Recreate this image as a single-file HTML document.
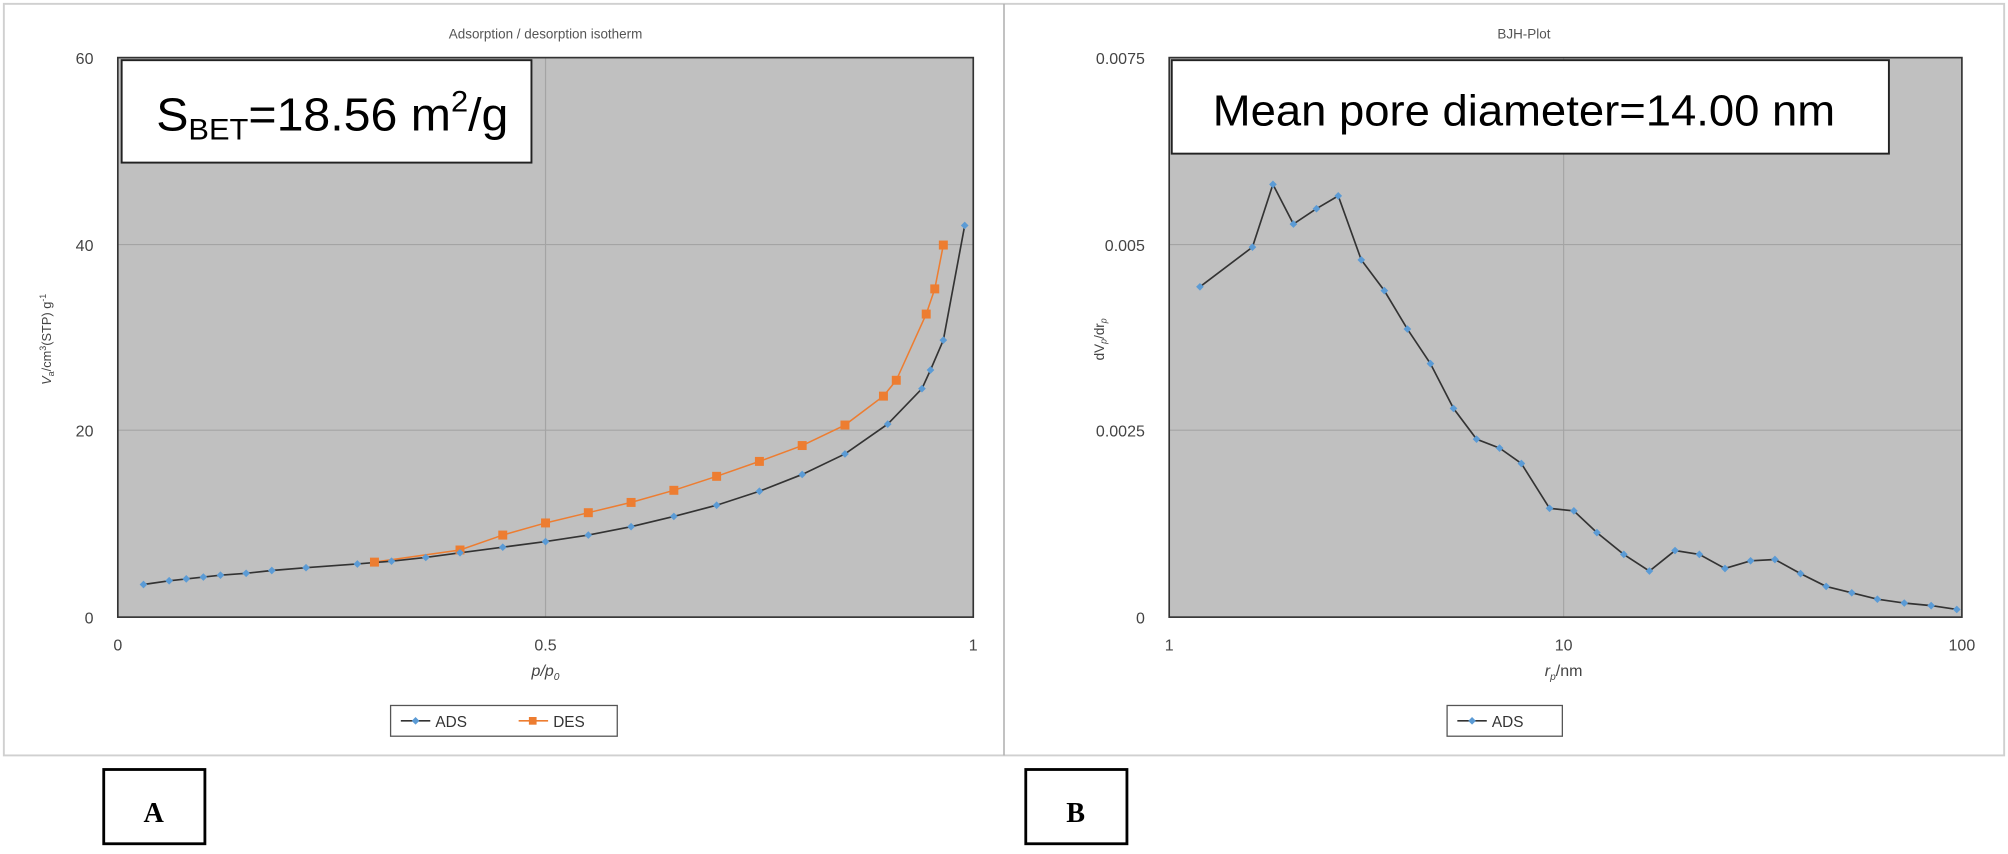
<!DOCTYPE html>
<html><head><meta charset="utf-8"><style>
html,body{margin:0;padding:0;background:#fff;width:2008px;height:854px;overflow:hidden}
svg{display:block}
text{font-family:"Liberation Sans",sans-serif}
</style></head><body>
<svg id="s" width="2008" height="854" viewBox="0 0 1568 667" preserveAspectRatio="none" xmlns="http://www.w3.org/2000/svg">
<rect x="0" y="0" width="1568" height="667" fill="#fff"/>
<rect x="3" y="3" width="1562" height="587" fill="none" stroke="#d0d0d0" stroke-width="1.5"/>
<line x1="784" y1="3" x2="784" y2="590" stroke="#b0b0b0" stroke-width="1.2"/>
<text x="426" y="30" font-size="10.5" fill="#555" text-anchor="middle">Adsorption / desorption isotherm</text>
<text x="1190" y="30" font-size="10.5" fill="#555" text-anchor="middle">BJH-Plot</text>
<rect x="92" y="45" width="668" height="437" fill="#c0c0c0"/>
<g stroke="#a4a4a4" stroke-width="0.9">
<line x1="92" y1="191" x2="760" y2="191"/><line x1="92" y1="336" x2="760" y2="336"/>
<line x1="426" y1="45" x2="426" y2="482"/>
</g>
<rect x="92" y="45" width="668" height="437" fill="none" stroke="#333" stroke-width="1.3"/>
<g font-size="12.5" fill="#444" text-anchor="end">
<text x="73" y="50">60</text><text x="73" y="196">40</text><text x="73" y="341">20</text><text x="73" y="487">0</text>
</g>
<g font-size="12.5" fill="#444" text-anchor="middle">
<text x="92" y="508">0</text><text x="426" y="508">0.5</text><text x="760" y="508">1</text>
<text x="426" y="528" font-style="italic">p/p<tspan font-size="8" dy="3">0</tspan></text>
</g>
<text transform="translate(40,265) rotate(-90)" font-size="10" fill="#444" text-anchor="middle"><tspan font-style="italic">V</tspan><tspan font-size="7" dy="2">a</tspan><tspan dy="-2">/cm</tspan><tspan font-size="7" dy="-4">3</tspan><tspan dy="4">(STP) g</tspan><tspan font-size="7" dy="-4">-1</tspan></text>
<g id="L"></g>
<rect x="95" y="47" width="320" height="80" fill="#fff" stroke="#222" stroke-width="1.5"/>
<text x="122" y="102" font-size="36" fill="#000" style="font-family:'Liberation Sans Narrow','Liberation Sans',sans-serif" textLength="275" lengthAdjust="spacingAndGlyphs">S<tspan font-size="23" dy="7">BET</tspan><tspan dy="-7">=18.56 m</tspan><tspan font-size="23" dy="-15">2</tspan><tspan dy="15">/g</tspan></text>
<rect x="305" y="551" width="177" height="24" fill="#fff" stroke="#555" stroke-width="1"/>
<line x1="313" y1="563" x2="336" y2="563" stroke="#333" stroke-width="1.3"/>
<path d="M324.5 560 L327.5 563 L324.5 566 L321.5 563Z" fill="#5b9bd5"/>
<text x="340" y="568" font-size="12" fill="#333">ADS</text>
<line x1="405" y1="563" x2="428" y2="563" stroke="#ed7d31" stroke-width="1.3"/>
<rect x="413" y="560" width="6" height="6" fill="#ed7d31"/>
<text x="432" y="568" font-size="12" fill="#333">DES</text>
<rect x="913" y="45" width="619" height="437" fill="#c0c0c0"/>
<g stroke="#a4a4a4" stroke-width="0.9">
<line x1="913" y1="191" x2="1532" y2="191"/><line x1="913" y1="336" x2="1532" y2="336"/>
<line x1="1221" y1="45" x2="1221" y2="482"/>
</g>
<rect x="913" y="45" width="619" height="437" fill="none" stroke="#333" stroke-width="1.3"/>
<g font-size="12.5" fill="#444" text-anchor="end">
<text x="894" y="50">0.0075</text><text x="894" y="196">0.005</text><text x="894" y="341">0.0025</text><text x="894" y="487">0</text>
</g>
<g font-size="12.5" fill="#444" text-anchor="middle">
<text x="913" y="508">1</text><text x="1221" y="508">10</text><text x="1532" y="508">100</text>
<text x="1221" y="528"><tspan font-style="italic">r</tspan><tspan font-size="8" dy="3" font-style="italic">p</tspan><tspan dy="-3">/nm</tspan></text>
</g>
<text transform="translate(862,265) rotate(-90)" font-size="10.5" fill="#444" text-anchor="middle">dV<tspan font-size="7" dy="2" font-style="italic">p</tspan><tspan dy="-2">/dr</tspan><tspan font-size="7" dy="2" font-style="italic">p</tspan></text>
<g id="R"></g>
<rect x="915" y="47" width="560" height="73" fill="#fff" stroke="#222" stroke-width="1.5"/>
<text x="947" y="98" font-size="34" fill="#000" style="font-family:'Liberation Sans Narrow','Liberation Sans',sans-serif" textLength="486" lengthAdjust="spacingAndGlyphs">Mean pore diameter=14.00 nm</text>
<rect x="1130" y="551" width="90" height="24" fill="#fff" stroke="#555" stroke-width="1"/>
<line x1="1138" y1="563" x2="1161" y2="563" stroke="#333" stroke-width="1.3"/>
<path d="M1149.5 560 L1152.5 563 L1149.5 566 L1146.5 563Z" fill="#5b9bd5"/>
<text x="1165" y="568" font-size="12" fill="#333">ADS</text>
<rect x="81" y="601" width="79" height="58" fill="#fff" stroke="#000" stroke-width="2.2"/>
<text x="120" y="642" font-size="22" font-weight="bold" text-anchor="middle" style="font-family:'Liberation Serif',serif">A</text>
<rect x="801" y="601" width="79" height="58" fill="#fff" stroke="#000" stroke-width="2.2"/>
<text x="840" y="642" font-size="22" font-weight="bold" text-anchor="middle" style="font-family:'Liberation Serif',serif">B</text>
</svg>
<script>
var NS="http://www.w3.org/2000/svg";
function el(p,t,a){var e=document.createElementNS(NS,t);for(var k in a)e.setAttribute(k,a[k]);p.appendChild(e);return e;}
var ads=[[0.03,3.5],[0.06,3.9],[0.08,4.1],[0.1,4.3],[0.12,4.5],[0.15,4.7],[0.18,5.0],[0.22,5.3],[0.28,5.7],[0.32,6.0],[0.36,6.4],[0.4,6.9],[0.45,7.5],[0.5,8.1],[0.55,8.8],[0.6,9.7],[0.65,10.8],[0.7,12.0],[0.75,13.5],[0.8,15.3],[0.85,17.5],[0.9,20.7],[0.94,24.5],[0.95,26.5],[0.965,29.7],[0.99,42]];
var des=[[0.3,5.9],[0.4,7.2],[0.45,8.8],[0.5,10.1],[0.55,11.2],[0.6,12.3],[0.65,13.6],[0.7,15.1],[0.75,16.7],[0.8,18.4],[0.85,20.6],[0.895,23.7],[0.91,25.4],[0.945,32.5],[0.955,35.2],[0.965,39.9]];
function X(p){return 92+p*668}function Y(v){return 482-v*437/60}
var L=document.getElementById("L");
el(L,"polyline",{points:des.map(function(d){return X(d[0])+","+Y(d[1])}).join(" "),fill:"none",stroke:"#ed7d31","stroke-width":1.2});
el(L,"polyline",{points:ads.map(function(d){return X(d[0])+","+Y(d[1])}).join(" "),fill:"none",stroke:"#333","stroke-width":1.3});
des.forEach(function(d){el(L,"rect",{x:X(d[0])-3.5,y:Y(d[1])-3.5,width:7,height:7,fill:"#ed7d31"})});
function dia(g,x,y){el(g,"path",{d:"M"+x+" "+(y-3)+" L"+(x+3)+" "+y+" L"+x+" "+(y+3)+" L"+(x-3)+" "+y+"Z",fill:"#5b9bd5"})}
ads.forEach(function(d){dia(L,X(d[0]),Y(d[1]))});
var r=[[937,224],[978,193],[994,144],[1010,175],[1028,163],[1045,153],[1063,203],[1081,227],[1099,257],[1117,284],[1135,319],[1153,343],[1171,350],[1188,362],[1210,397],[1229,399],[1247,416],[1268,433],[1288,446],[1308,430],[1327,433],[1347,444],[1367,438],[1386,437],[1406,448],[1426,458],[1446,463],[1466,468],[1487,471],[1508,473],[1528,476]];
var R=document.getElementById("R");
el(R,"polyline",{points:r.map(function(d){return d[0]+","+d[1]}).join(" "),fill:"none",stroke:"#333","stroke-width":1.3});
r.forEach(function(d){dia(R,d[0],d[1])});
</script>
</body></html>
